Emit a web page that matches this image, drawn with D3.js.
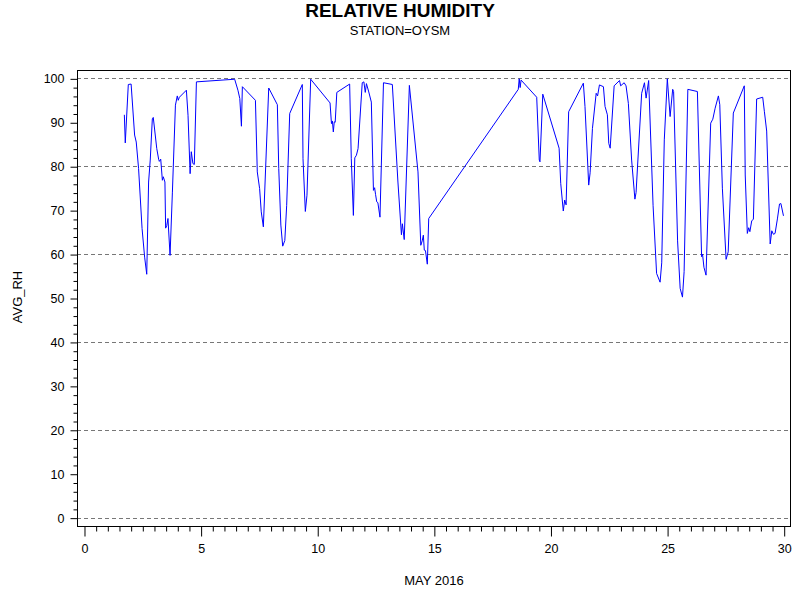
<!DOCTYPE html>
<html><head><meta charset="utf-8">
<script src="https://cdn.jsdelivr.net/npm/d3@7"></script>
<style>body{margin:0;background:#fff}svg{display:block}text{font-family:Arial,"Liberation Sans",sans-serif}</style>
</head><body>
<script>
const title = "RELATIVE HUMIDITY";
const subtitle = "STATION=OYSM";
const xLabel = "MAY 2016";
const yLabel = "AVG_RH";
const xTicks = [0,5,10,15,20,25,30];
const yTicks = [0,10,20,30,40,50,60,70,80,90,100];
const gridValues = [0,20,40,60,80,100];
const days = [1.73,1.77,1.90,2.02,2.17,2.24,2.34,2.49,2.60,2.69,2.77,2.84,2.93,2.97,3.12,3.20,3.23,3.29,3.36,3.40,3.47,3.50,3.55,3.60,3.69,3.79,3.92,4.00,4.04,4.09,4.39,4.46,4.55,4.60,4.67,4.73,4.82,6.46,6.60,6.68,6.75,6.79,7.35,7.43,7.53,7.60,7.69,7.92,8.29,8.35,8.44,8.52,8.61,8.69,8.82,9.36,9.39,9.49,9.56,9.72,10.55,10.61,10.65,10.69,10.73,10.77,10.84,11.39,11.46,11.55,11.61,11.68,11.75,11.93,12.00,12.06,12.11,12.21,12.32,12.41,12.46,12.50,12.55,12.60,12.69,12.84,13.22,13.46,13.61,13.65,13.73,13.95,14.32,14.44,14.50,14.55,14.59,14.64,14.72,14.78,18.62,18.66,18.70,18.74,19.41,19.52,19.55,19.67,20.37,20.44,20.55,20.61,20.67,20.78,21.41,21.48,21.64,21.70,21.80,21.96,22.02,22.10,22.27,22.34,22.44,22.50,22.56,22.73,22.96,23.01,23.16,23.24,23.34,23.48,23.62,23.67,23.91,24.03,24.10,24.21,24.40,24.55,24.70,24.77,24.88,25.01,25.13,25.24,25.28,25.45,25.56,25.66,25.73,25.89,26.30,26.48,26.52,26.58,26.67,26.87,26.96,27.06,27.20,27.26,27.37,27.53,27.62,27.84,28.31,28.35,28.44,28.50,28.55,28.63,28.70,28.84,29.10,29.17,29.27,29.42,29.49,29.56,29.63,29.73,29.82,29.88,29.99];
const rh = [91.7,85.3,98.6,98.7,87.1,85.5,79.5,65.8,59.3,55.4,76.4,81.4,90.8,91.1,84.0,81.6,81.1,81.6,76.8,77.6,76.4,65.9,66.5,68.1,59.7,74.1,93.9,96.0,95.0,95.7,97.3,91.6,78.3,83.3,80.6,80.4,99.2,99.8,97.3,95.4,89.1,98.1,95.0,78.7,74.9,69.6,66.2,97.8,94.0,79.5,66.6,61.8,63.1,71.1,92.0,98.6,81.7,69.7,73.4,99.8,94.4,89.7,90.3,87.8,90.1,90.0,96.8,98.7,81.7,68.8,81.9,82.5,84.0,99.0,99.2,96.8,98.8,96.9,94.6,74.5,75.1,73.6,71.9,71.7,68.4,99.0,98.6,76.4,64.4,66.9,63.3,98.4,78.7,62.0,63.0,64.3,60.9,60.8,57.7,68.1,97.5,99.9,97.9,99.6,95.7,81.4,81.0,96.4,84.1,76.1,69.8,72.3,71.2,92.4,98.9,93.6,75.7,78.5,88.6,96.6,96.0,98.5,98.1,93.6,91.7,85.2,84.1,98.3,99.5,98.3,99.0,98.3,94.3,81.4,72.5,74.0,96.6,99.0,95.5,99.5,71.0,55.6,53.6,58.0,86.0,99.9,91.3,97.5,97.0,63.0,52.2,50.2,56.0,97.5,97.0,59.4,60.0,57.0,55.2,89.8,90.7,93.2,96.0,94.0,75.0,58.8,60.5,92.1,98.3,78.0,64.7,66.0,65.1,67.6,67.9,95.3,95.7,92.5,88.0,62.3,65.3,64.5,64.7,68.0,71.4,71.5,68.7];

const W = 800, H = 600;
const svg = d3.select("body").append("svg").attr("width", W).attr("height", H);
const mLeft = 77, mRight = 790, mTop = 70, mBottom = 526;
const x = d3.scaleLinear().domain([-0.3, 30.27]).range([mLeft, mRight]);
const y = d3.scaleLinear().domain([-1.9, 101.9]).range([mBottom, mTop]);
const FONT = "Arial, 'Liberation Sans', sans-serif";

// gridlines
svg.append("g").selectAll("line").data(gridValues).join("line")
  .attr("x1", mLeft).attr("x2", mRight)
  .attr("y1", d => Math.round(y(d)) + 0.5).attr("y2", d => Math.round(y(d)) + 0.5)
  .attr("stroke", "#777").attr("stroke-width", 1).attr("stroke-dasharray", "4,3");

// frame
svg.append("rect").attr("x", mLeft + 0.5).attr("y", mTop + 0.5)
  .attr("width", mRight - mLeft).attr("height", mBottom - mTop)
  .attr("fill", "none").attr("stroke", "#000").attr("stroke-width", 1);

// x axis major
const xAxis = d3.axisBottom(x).tickValues(xTicks).tickSize(10).tickPadding(8).tickFormat(d3.format("d"));
const gx = svg.append("g").attr("transform", `translate(0.5,${mBottom + 0.5})`).call(xAxis);
gx.select(".domain").remove();
gx.selectAll("text").attr("font-size", 12.5).attr("fill", "#000").attr("font-family", FONT);
const xMinor = d3.range(0, 30.01, 0.5).filter(v => v % 5 !== 0);
const gxm = svg.append("g").attr("transform", `translate(0.5,${mBottom + 0.5})`)
  .call(d3.axisBottom(x).tickValues(xMinor).tickSize(5).tickFormat(""));
gxm.select(".domain").remove();

// y axis major
const yAxis = d3.axisLeft(y).tickValues(yTicks).tickSize(7).tickPadding(6).tickFormat(d3.format("d"));
const gy = svg.append("g").attr("transform", `translate(${mLeft + 0.5},0.5)`).call(yAxis);
gy.select(".domain").remove();
gy.selectAll("text").attr("font-size", 12.5).attr("fill", "#000").attr("font-family", FONT);
const yMinor = d3.range(0, 100.01, 2).filter(v => v % 10 !== 0);
const gym = svg.append("g").attr("transform", `translate(${mLeft + 0.5},0.5)`)
  .call(d3.axisLeft(y).tickValues(yMinor).tickSize(4).tickFormat(""));
gym.select(".domain").remove();

// line
const pts = days.map((d, i) => [d, rh[i]]);
svg.append("path").datum(pts)
  .attr("d", d3.line().x(d => x(d[0])).y(d => y(d[1])))
  .attr("fill", "none").attr("stroke", "#0000ff").attr("stroke-width", 1);

// titles
svg.append("text").attr("x", 400).attr("y", 17).attr("text-anchor", "middle")
  .attr("font-size", 19).attr("font-weight", "bold").text(title);
svg.append("text").attr("x", 400).attr("y", 35).attr("text-anchor", "middle")
  .attr("font-size", 13).text(subtitle);
svg.append("text").attr("x", 434).attr("y", 585).attr("text-anchor", "middle")
  .attr("font-size", 13).text(xLabel);
svg.append("text").attr("transform", "translate(22,297) rotate(-90)").attr("text-anchor", "middle")
  .attr("font-size", 13).text(yLabel);
</script>
</body></html>
